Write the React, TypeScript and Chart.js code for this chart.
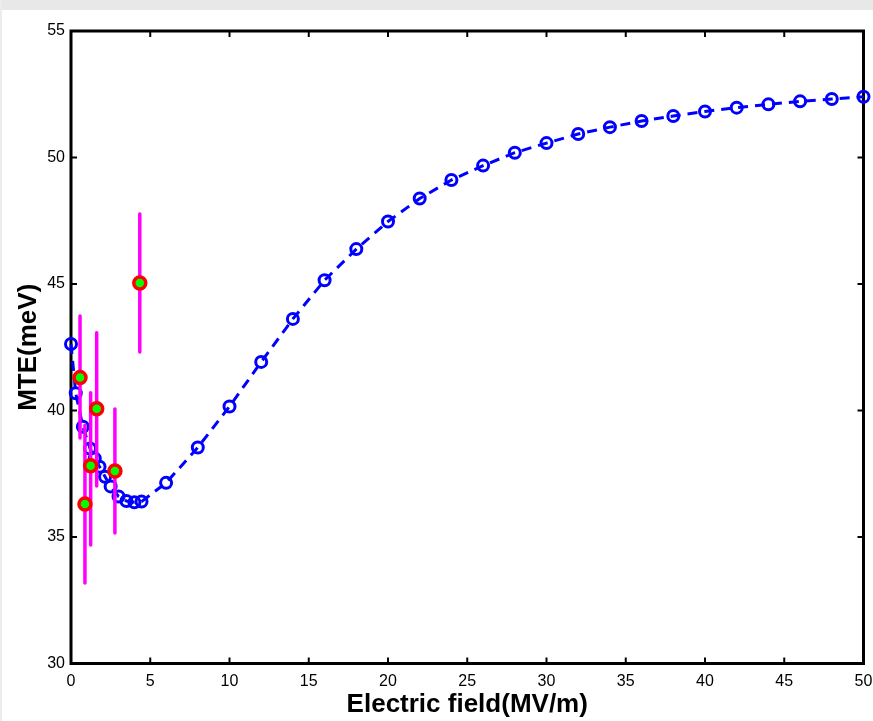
import React, { useEffect, useRef } from "react";
import { Chart, registerables } from "chart.js";

Chart.register(...registerables);

// Simulated MTE curve (blue dashed, hollow circles)
const blueX = [0, 0.3, 0.75, 1.2, 1.5, 1.8, 2.15, 2.5, 3.0, 3.5, 4.0, 4.45, 6, 8, 10, 12, 14, 16, 18, 20, 22, 24, 26, 28, 30, 32, 34, 36, 38, 40, 42, 44, 46, 48, 50];
const blueY = [42.63, 40.68, 39.36, 38.5, 38.1, 37.78, 37.38, 37.0, 36.6, 36.42, 36.37, 36.4, 37.14, 38.54, 40.16, 41.92, 43.62, 45.15, 46.38, 47.47, 48.38, 49.11, 49.68, 50.19, 50.57, 50.93, 51.2, 51.44, 51.64, 51.82, 51.97, 52.1, 52.22, 52.31, 52.4];

// Measured points with error bars
const errX = [0.57, 0.88, 1.24, 1.62, 2.77, 4.34];
const errY = [41.3, 36.3, 37.82, 40.07, 37.61, 45.04];
const errLo = [38.91, 33.18, 34.68, 37.02, 35.16, 42.31];
const errHi = [43.74, 39.42, 40.7, 43.07, 40.06, 47.77];

const xTicksMin = 0;
const xTicksMax = 50;
const xStep = 5;
const yTicksMin = 30;
const yTicksMax = 55;
const yStep = 5;

const xTitle = "Electric field(MV/m)";
const yTitle = "MTE(meV)";

const FONT = "'Liberation Sans', Arial, Helvetica, sans-serif";

const framePlugin = {
  id: "matlabFrame",
  beforeDraw(chart: any) {
    const { ctx, width, height } = chart;
    ctx.save();
    ctx.fillStyle = "#ffffff";
    ctx.fillRect(0, 0, width, height);
    ctx.fillStyle = "#e8e8e8";
    ctx.fillRect(0, 0, width, 10);
    ctx.fillStyle = "#ececec";
    ctx.fillRect(0, 0, 2, height);
    ctx.restore();
  },
  beforeDatasetsDraw(chart: any) {
    const { ctx, chartArea: a, scales } = chart;
    const L = 6;
    ctx.save();
    ctx.strokeStyle = "#000";
    ctx.lineWidth = 2;
    const seg = (x1: number, y1: number, x2: number, y2: number) => {
      ctx.beginPath();
      ctx.moveTo(x1, y1);
      ctx.lineTo(x2, y2);
      ctx.stroke();
    };
    scales.x.ticks.forEach((t: any) => {
      const px = scales.x.getPixelForValue(t.value);
      seg(px, a.bottom, px, a.bottom - L);
      seg(px, a.top, px, a.top + L);
    });
    scales.y.ticks.forEach((t: any) => {
      const py = scales.y.getPixelForValue(t.value);
      seg(a.left, py, a.left + L, py);
      seg(a.right, py, a.right - L, py);
    });
    ctx.lineWidth = 3;
    ctx.strokeRect(a.left, a.top, a.right - a.left, a.bottom - a.top);
    ctx.restore();
  },
};

export default function App() {
  const ref = useRef<HTMLCanvasElement | null>(null);

  useEffect(() => {
    if (!ref.current) return;
    const blueData = blueX.map((x, i) => ({ x, y: blueY[i] }));
    const markerData = errX.map((x, i) => ({ x, y: errY[i] }));
    const barData: any[] = [];
    errX.forEach((x, i) => {
      barData.push({ x, y: errLo[i] });
      barData.push({ x, y: errHi[i] });
      barData.push({ x, y: null });
    });

    const chart = new Chart(ref.current, {
      type: "scatter",
      data: {
        datasets: [
          {
            label: "measured",
            data: markerData,
            showLine: false,
            pointRadius: 6,
            pointBorderWidth: 3.5,
            pointBorderColor: "#ff0000",
            pointBackgroundColor: "#00ff00",
            clip: false,
            order: 0,
          } as any,
          {
            label: "error",
            data: barData,
            showLine: true,
            spanGaps: false,
            borderColor: "#ff00ff",
            borderWidth: 3.5,
            borderCapStyle: "round",
            pointRadius: 0,
            clip: false,
            order: 1,
          } as any,
          {
            label: "simulation",
            data: blueData,
            showLine: true,
            borderColor: "#0000ff",
            borderWidth: 3,
            borderDash: [10, 7],
            pointRadius: 5.5,
            pointBorderWidth: 3,
            pointBorderColor: "#0000ff",
            pointBackgroundColor: "rgba(0,0,0,0)",
            clip: false,
            order: 2,
          } as any,
        ],
      },
      options: {
        responsive: false,
        animation: false,
        events: [],
        layout: { padding: { left: 0, top: 31, right: 5, bottom: 0 } },
        plugins: {
          legend: { display: false },
          tooltip: { enabled: false },
        },
        scales: {
          x: {
            type: "linear",
            min: xTicksMin,
            max: xTicksMax,
            border: { display: false },
            grid: { display: false, drawTicks: false },
            ticks: {
              stepSize: xStep,
              autoSkip: false,
              maxRotation: 0,
              padding: 8,
              color: "#000",
              font: { family: FONT, size: 16 },
            },
            title: {
              display: true,
              text: xTitle,
              color: "#000",
              font: { family: FONT, size: 26, weight: "bold" },
              padding: { top: 0, bottom: 1 },
            },
            afterFit: (s: any) => {
              s.height = 57.5;
              s.paddingLeft = 0;
              s.paddingRight = 0;
            },
          },
          y: {
            type: "linear",
            min: yTicksMin,
            max: yTicksMax,
            border: { display: false },
            grid: { display: false, drawTicks: false },
            ticks: {
              stepSize: yStep,
              autoSkip: false,
              padding: 6,
              color: "#000",
              font: { family: FONT, size: 16 },
            },
            title: {
              display: true,
              text: yTitle,
              color: "#000",
              font: { family: FONT, size: 26, weight: "bold" },
              padding: { top: 13, bottom: 0 },
            },
            afterFit: (s: any) => {
              s.width = 71;
              s.paddingTop = 0;
              s.paddingBottom = 0;
            },
          },
        },
      } as any,
      plugins: [framePlugin],
    });
    return () => chart.destroy();
  }, []);

  return (
    <div style={{ position: "absolute", left: 0, top: 0, width: 873, height: 721 }}>
      <canvas ref={ref} width={873} height={721} style={{ display: "block", width: 873, height: 721 }} />
    </div>
  );
}
